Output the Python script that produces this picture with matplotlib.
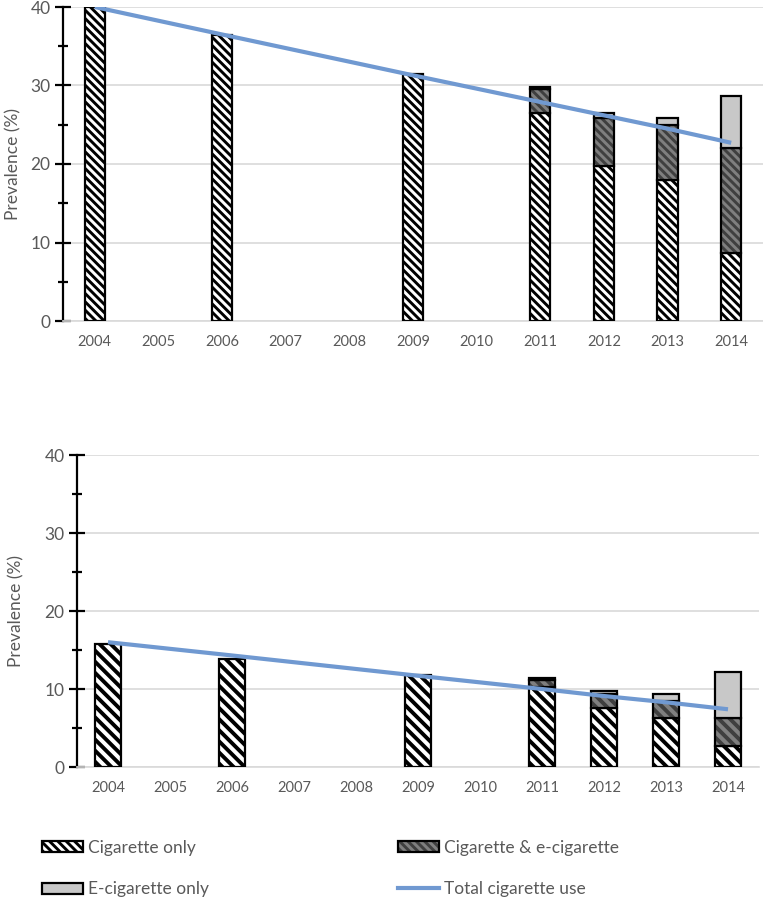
import matplotlib
matplotlib.use("Agg")
import matplotlib.pyplot as plt
from matplotlib.patches import Patch
from matplotlib.lines import Line2D
from matplotlib.ticker import MultipleLocator
import numpy as np

plt.rcParams['font.family'] = ['Lato', 'DejaVu Sans']
plt.rcParams['hatch.linewidth'] = 2.1

BS = chr(92)
HATCH_TOP = BS * 4
HATCH_BOT = BS * 3

years = ['2004', '2005', '2006', '2007', '2008', '2009', '2010', '2011', '2012', '2013', '2014']

# Top panel
top_cig_only = [40.0, np.nan, 36.4, np.nan, np.nan, 31.5, np.nan, 26.5, 19.7, 17.9, 8.7]
top_dual = [0, np.nan, 0, np.nan, np.nan, 0, np.nan, 3.1, 6.2, 7.1, 13.4]
top_ecig_only = [0, np.nan, 0, np.nan, np.nan, 0, np.nan, 0.2, 0.6, 0.9, 6.5]
top_total = [40.0, np.nan, 36.5, np.nan, np.nan, 31.3, np.nan, 27.9, 26.2, 24.5, 22.7]

# Bottom panel
bot_cig_only = [15.8, np.nan, 13.8, np.nan, np.nan, 11.8, np.nan, 10.3, 7.6, 6.3, 2.7]
bot_dual = [0, np.nan, 0, np.nan, np.nan, 0, np.nan, 0.9, 1.7, 2.1, 3.6]
bot_ecig_only = [0, np.nan, 0, np.nan, np.nan, 0, np.nan, 0.2, 0.5, 1.0, 5.9]
bot_total = [16.0, np.nan, 14.3, np.nan, np.nan, 11.7, np.nan, 10.0, 9.1, 8.3, 7.4]

labels = ['Cigarette only', 'Cigarette & e-cigarette', 'E-cigarette only', 'Total cigarette use']

W, H = 763, 900
fig = plt.figure(figsize=(W / 100, H / 100), dpi=100)

LINE_C = '#7099d1'
GRID_C = '#d9d9d9'
TXT_C = '#595959'
DUAL_FC = '#7f7f7f'
DUAL_HC = '#3f3f3f'
ECIG_FC = '#c8c8c8'


def set_hlw(containers, lw):
    for cont in containers:
        for p in cont:
            if hasattr(p, 'set_hatch_linewidth'):
                p.set_hatch_linewidth(lw)


def draw_panel(ax, cig, dual, ecig, total, width, hatch, hlw):
    x = np.arange(len(years))
    cig = np.array(cig, dtype=float)
    dual = np.array(dual, dtype=float)
    ecig = np.array(ecig, dtype=float)
    total = np.array(total, dtype=float)
    m = ~np.isnan(cig)
    xs = x[m]
    c, d, e = cig[m], dual[m], ecig[m]
    b1 = ax.bar(xs, c, width, facecolor='white', edgecolor='black', hatch=hatch, linewidth=1.6, zorder=3)
    dm = d > 0
    b2 = ax.bar(xs[dm], d[dm], width, bottom=c[dm], facecolor=DUAL_FC, edgecolor=DUAL_HC,
                hatch=hatch, linewidth=0, zorder=3)
    set_hlw([b1, b2], hlw)
    ax.bar(xs[dm], d[dm], width, bottom=c[dm], fill=False, edgecolor='black', linewidth=1.6, zorder=3)
    em = e > 0
    ax.bar(xs[em], e[em], width, bottom=(c + d)[em], facecolor=ECIG_FC, edgecolor='black',
           linewidth=1.6, zorder=3)
    tm = ~np.isnan(total)
    ax.plot(x[tm], total[tm], color=LINE_C, linewidth=3.0, zorder=4, solid_capstyle='butt')

    ax.set_xlim(-0.5, len(years) - 0.5)
    ax.set_ylim(0, 40)
    ax.set_xticks(x)
    ax.set_xticklabels(years)
    ax.yaxis.set_major_locator(MultipleLocator(10))
    ax.yaxis.set_minor_locator(MultipleLocator(5))
    ax.grid(axis='y', color=GRID_C, linewidth=1.2, zorder=0)
    ax.set_axisbelow(True)
    for s in ['top', 'right']:
        ax.spines[s].set_visible(False)
    ax.spines['bottom'].set_color(GRID_C)
    ax.spines['bottom'].set_linewidth(1.2)
    ax.spines['left'].set_color('black')
    ax.spines['left'].set_linewidth(1.6)
    ax.tick_params(axis='x', length=0, pad=10, labelsize=10.5, labelcolor=TXT_C)
    ax.tick_params(axis='y', which='major', direction='inout', length=12, width=1.6,
                   color='black', labelsize=12.5, labelcolor=TXT_C, pad=3)
    ax.tick_params(axis='y', which='minor', direction='inout', length=7, width=1.6, color='black')
    ax.set_ylabel('Prevalence (%)', fontsize=12.5, color=TXT_C)


ax1 = fig.add_axes([63 / W, 1 - 321 / H, 700 / W, 314 / H])
draw_panel(ax1, top_cig_only, top_dual, top_ecig_only, top_total, 0.32, HATCH_TOP, 2.1)
ax1.yaxis.set_label_coords((21 - 63) / 700, 0.5)

ax2 = fig.add_axes([77 / W, 1 - 767 / H, 682 / W, 312 / H])
draw_panel(ax2, bot_cig_only, bot_dual, bot_ecig_only, bot_total, 0.41, HATCH_BOT, 2.8)
ax2.yaxis.set_label_coords((24 - 77) / 682, 0.5)

h_cig = Patch(facecolor='white', edgecolor='black', hatch=HATCH_TOP, linewidth=1.6)
h_dual = (Patch(facecolor=DUAL_FC, edgecolor=DUAL_HC, hatch=HATCH_TOP, linewidth=0),
          Patch(fill=False, edgecolor='black', linewidth=1.6))
h_ecig = Patch(facecolor=ECIG_FC, edgecolor='black', linewidth=1.6)
h_tot = Line2D([], [], color=LINE_C, linewidth=3.0)

leg = fig.legend([h_cig, h_ecig, h_dual, h_tot],
                 [labels[0], labels[2], labels[1], labels[3]],
                 ncol=2, loc='upper left', bbox_to_anchor=(42 / W, 1 - 840 / H),
                 frameon=False, fontsize=12.5, handlelength=2.36, handleheight=0.6,
                 handletextpad=0.29, columnspacing=10.9, labelspacing=1.45,
                 borderpad=0, borderaxespad=0, labelcolor=TXT_C)

fig.savefig('out.png', dpi=100)
